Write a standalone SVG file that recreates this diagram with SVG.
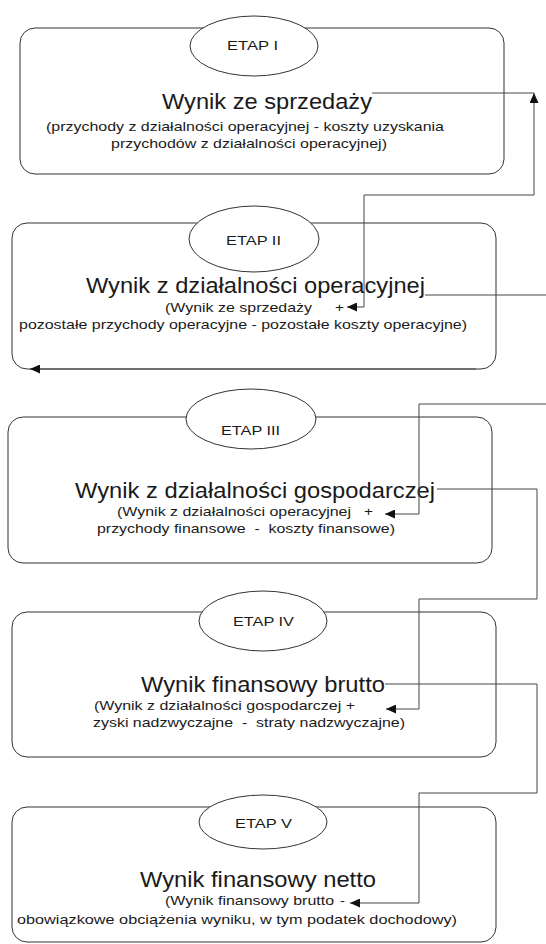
<svg xmlns="http://www.w3.org/2000/svg" width="546" height="944" viewBox="0 0 546 944">
<style>
  .box { fill: #ffffff; stroke: #333333; stroke-width: 1; }
  .ell { fill: #ffffff; stroke: #333333; stroke-width: 1; }
  .big { font-family: "Liberation Sans", Arial, sans-serif; font-size: 22.5px; fill: #1a1a1a; }
  .sm { font-family: "Liberation Sans", Arial, sans-serif; font-size: 13.5px; fill: #1a1a1a; white-space: pre; }
  .conn { fill: none; stroke: #444444; stroke-width: 1; }
</style>
<defs>
  <marker id="arr" markerUnits="userSpaceOnUse" markerWidth="10" markerHeight="9" refX="10" refY="4.5" orient="auto-start-reverse">
    <path d="M0,0 L10,4.5 L0,9 Z" fill="#111111"/>
  </marker>
</defs>
<rect width="546" height="944" fill="#ffffff"/>

<g id="etap1">
  <rect class="box" x="20" y="28" width="484" height="146" rx="15"/>
  <ellipse class="ell" cx="254" cy="46" rx="64" ry="30"/>
  <text class="sm" x="227" y="50" textLength="51" lengthAdjust="spacingAndGlyphs">ETAP I</text>
  <text class="big" x="162" y="109" textLength="210" lengthAdjust="spacingAndGlyphs">Wynik ze sprzedaży</text>
  <text class="sm" x="46" y="131" textLength="398" lengthAdjust="spacingAndGlyphs">(przychody z działalności operacyjnej - koszty uzyskania</text>
  <text class="sm" x="111" y="148" textLength="276" lengthAdjust="spacingAndGlyphs">przychodów z działalności operacyjnej)</text>
</g>

<g id="etap2">
  <rect class="box" x="12" y="223" width="484" height="146" rx="15"/>
  <ellipse class="ell" cx="254" cy="239" rx="65" ry="33"/>
  <text class="sm" x="226" y="245" textLength="55" lengthAdjust="spacingAndGlyphs">ETAP II</text>
  <text class="big" x="86" y="293" textLength="339" lengthAdjust="spacingAndGlyphs">Wynik z działalności operacyjnej</text>
  <text class="sm" x="165" y="312" textLength="147" lengthAdjust="spacingAndGlyphs">(Wynik ze sprzedaży</text>
  <text class="sm" x="335" y="312" textLength="9" lengthAdjust="spacingAndGlyphs">+</text>
  <text class="sm" x="19" y="329" textLength="448" lengthAdjust="spacingAndGlyphs">pozostałe przychody operacyjne - pozostałe koszty operacyjne)</text>
</g>

<g id="etap3">
  <rect class="box" x="8" y="417" width="484" height="146" rx="15"/>
  <ellipse class="ell" cx="251" cy="419" rx="65" ry="30"/>
  <text class="sm" x="221" y="435" textLength="59" lengthAdjust="spacingAndGlyphs">ETAP III</text>
  <text class="big" x="75" y="498" textLength="360" lengthAdjust="spacingAndGlyphs">Wynik z działalności gospodarczej</text>
  <text class="sm" x="117" y="516" textLength="234" lengthAdjust="spacingAndGlyphs">(Wynik z działalności operacyjnej</text>
  <text class="sm" x="364" y="516" textLength="9" lengthAdjust="spacingAndGlyphs">+</text>
  <text class="sm" x="97" y="533" textLength="298" lengthAdjust="spacingAndGlyphs" xml:space="preserve">przychody finansowe  -  koszty finansowe)</text>
</g>

<g id="etap4">
  <rect class="box" x="12" y="612" width="484" height="145" rx="15"/>
  <ellipse class="ell" cx="263" cy="621" rx="64" ry="30"/>
  <text class="sm" x="233" y="626" textLength="61" lengthAdjust="spacingAndGlyphs">ETAP IV</text>
  <text class="big" x="141" y="692" textLength="244" lengthAdjust="spacingAndGlyphs">Wynik finansowy brutto</text>
  <text class="sm" x="94" y="710" textLength="261" lengthAdjust="spacingAndGlyphs">(Wynik z działalności gospodarczej +</text>
  <text class="sm" x="93" y="727" textLength="312" lengthAdjust="spacingAndGlyphs" xml:space="preserve">zyski nadzwyczajne  -  straty nadzwyczajne)</text>
</g>

<g id="etap5">
  <rect class="box" x="12" y="807" width="484" height="135" rx="15"/>
  <ellipse class="ell" cx="263" cy="822" rx="64" ry="27"/>
  <text class="sm" x="235" y="828" textLength="57" lengthAdjust="spacingAndGlyphs">ETAP V</text>
  <text class="big" x="140" y="887" textLength="236" lengthAdjust="spacingAndGlyphs">Wynik finansowy netto</text>
  <text class="sm" x="165" y="905" textLength="169" lengthAdjust="spacingAndGlyphs">(Wynik finansowy brutto</text>
  <text class="sm" x="340" y="905" textLength="5" lengthAdjust="spacingAndGlyphs">-</text>
  <text class="sm" x="17" y="924" textLength="440" lengthAdjust="spacingAndGlyphs">obowiązkowe obciążenia wyniku, w tym podatek dochodowy)</text>
</g>

<g id="connectors">
  <path class="conn" d="M372,93 H534"/>
  <path class="conn" d="M534,93 V195 H364 V307 H347" marker-start="url(#arr)" marker-end="url(#arr)"/>
  <path class="conn" d="M425,295 H546"/>
  <path class="conn" d="M476,369 H30" marker-end="url(#arr)"/>
  <path class="conn" d="M546,404 H419 V514 H385" marker-end="url(#arr)"/>
  <path class="conn" d="M437,489 H537 V599 H419 V709 H386" marker-end="url(#arr)"/>
  <path class="conn" d="M385,684 H537 V793 H419 V903 H350" marker-end="url(#arr)"/>
</g>
</svg>
